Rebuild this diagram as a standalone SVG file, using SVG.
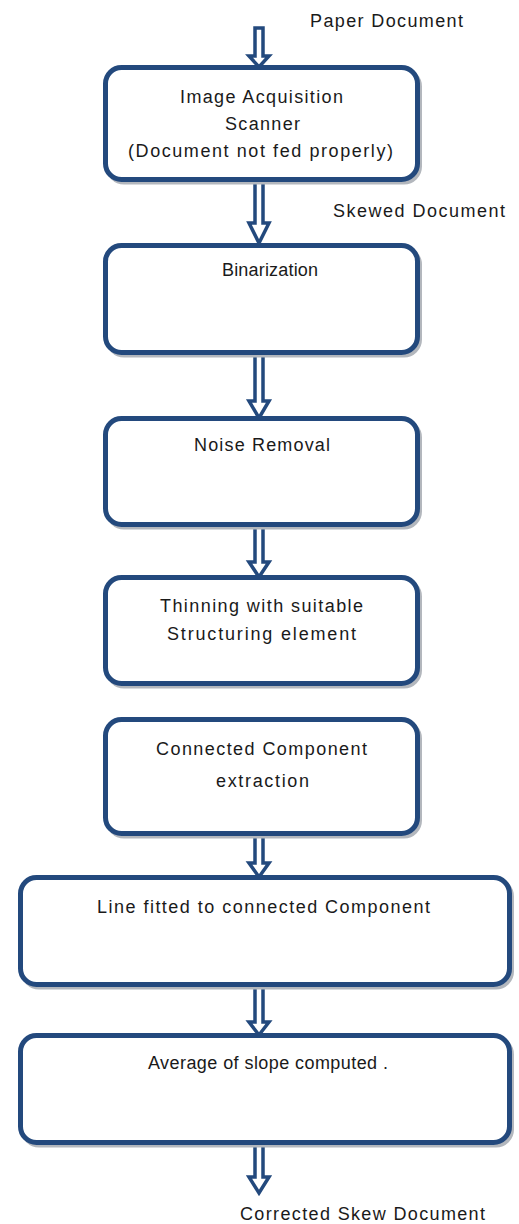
<svg xmlns="http://www.w3.org/2000/svg" width="519" height="1224" viewBox="0 0 519 1224">
<style>
.box{fill:#ffffff;stroke:#23497d;stroke-width:5}
.sh{fill:none;stroke:#b3b7bd;stroke-width:4}
.arr{fill:#ffffff;stroke:#23497d;stroke-width:3.5;stroke-linejoin:miter}
text{font-family:"Liberation Sans",Arial,sans-serif;font-size:18px;fill:#1a1a1a}
</style>
<rect width="519" height="1224" fill="#ffffff"/>
<g id="connectors">
<polygon class="arr" points="255,28 263,28 263,56 269,56 259,67 249,56 255,56"/>
<polygon class="arr" points="255,182 263,182 263,223 269,223 259,243 249,223 255,223"/>
<polygon class="arr" points="255,355 263,355 263,401 269,401 259,418 249,401 255,401"/>
<polygon class="arr" points="255,527 263,527 263,562 269,562 259,577 249,562 255,562"/>
<polygon class="arr" points="255,836 263,836 263,863 269,863 259,877 249,863 255,863"/>
<polygon class="arr" points="255,987 263,987 263,1022 269,1022 259,1035 249,1022 255,1022"/>
<polygon class="arr" points="255,1145 263,1145 263,1177 269,1177 259,1193 249,1177 255,1177"/>
</g>
<text x="310" y="27" textLength="153" lengthAdjust="spacing">Paper Document</text>
<text x="333" y="217" textLength="172" lengthAdjust="spacing">Skewed Document</text>
<text x="240" y="1220" textLength="245" lengthAdjust="spacing">Corrected Skew Document</text>
<g id="n1">
<rect class="sh" x="108" y="70.5" width="312" height="112" rx="16"/>
<rect class="box" x="105.5" y="67.5" width="312" height="112" rx="16"/>
<text x="180" y="103" textLength="163" lengthAdjust="spacing">Image Acquisition</text>
<text x="225" y="130" textLength="75" lengthAdjust="spacing">Scanner</text>
<text x="128" y="157" textLength="265" lengthAdjust="spacing">(Document not fed properly)</text>
</g>
<g id="n2">
<rect class="sh" x="108" y="248.5" width="312" height="107" rx="16"/>
<rect class="box" x="105.5" y="245.5" width="312" height="107" rx="16"/>
<text x="222" y="276" textLength="96" lengthAdjust="spacing">Binarization</text>
</g>
<g id="n3">
<rect class="sh" x="108" y="421.5" width="312" height="106" rx="16"/>
<rect class="box" x="105.5" y="418.5" width="312" height="106" rx="16"/>
<text x="194" y="451" textLength="136" lengthAdjust="spacing">Noise Removal</text>
</g>
<g id="n4">
<rect class="sh" x="108" y="580.5" width="312" height="106" rx="16"/>
<rect class="box" x="105.5" y="577.5" width="312" height="106" rx="16"/>
<text x="160" y="612" textLength="203" lengthAdjust="spacing">Thinning with suitable</text>
<text x="167" y="640" textLength="189" lengthAdjust="spacing">Structuring element</text>
</g>
<g id="n5">
<rect class="sh" x="108" y="722.5" width="312" height="114" rx="16"/>
<rect class="box" x="105.5" y="719.5" width="312" height="114" rx="16"/>
<text x="156" y="755" textLength="211" lengthAdjust="spacing">Connected Component</text>
<text x="216" y="787" textLength="93" lengthAdjust="spacing">extraction</text>
</g>
<g id="n6">
<rect class="sh" x="23" y="880.5" width="489" height="107" rx="16"/>
<rect class="box" x="20.5" y="877.5" width="489" height="107" rx="16"/>
<text x="97" y="913" textLength="333" lengthAdjust="spacing">Line fitted to connected Component</text>
</g>
<g id="n7">
<rect class="sh" x="23" y="1038.5" width="489" height="107" rx="16"/>
<rect class="box" x="20.5" y="1035.5" width="489" height="107" rx="16"/>
<text x="148" y="1069" textLength="240" lengthAdjust="spacing">Average of slope computed .</text>
</g>
</svg>
